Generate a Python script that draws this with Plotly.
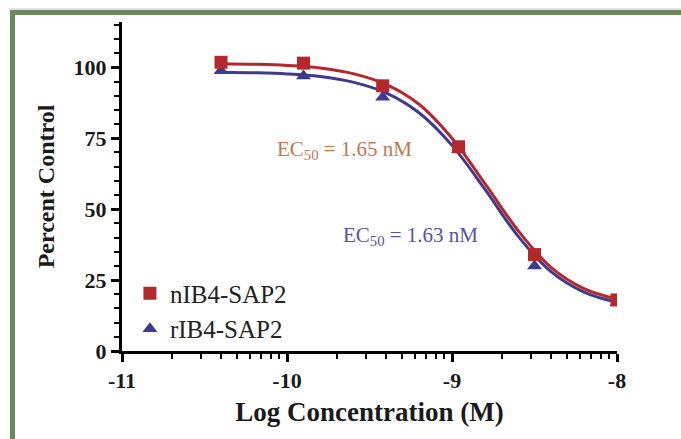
import math
import plotly.graph_objects as go

# ---- data ----
log_conc = [-10.4, -9.9, -9.42, -8.96, -8.5, -8.0]
n_vals = [101.8, 101.5, 93.5, 72.0, 34.0, 18.0]      # nIB4-SAP2 (red squares)
r_vals = [98.8, 97.0, 89.5, 71.0, 30.0, 17.0]        # rIB4-SAP2 (blue triangles)

fit_x = [-10.4, -10.2, -10.0, -9.8, -9.6, -9.4, -9.2, -9.0, -8.8, -8.6, -8.4, -8.2, -8.0]
fit_n = [101.3, 101.1, 100.7, 99.8, 97.8, 94.0, 87.0, 75.0, 59.0, 42.5, 29.5, 22.0, 18.3]
fit_r = [98.3, 98.1, 97.7, 96.8, 94.8, 91.0, 84.0, 72.5, 57.0, 40.5, 28.0, 20.8, 17.2]

names = ["nIB4-SAP2", "rIB4-SAP2"]
ec50_labels = ["EC<sub>50</sub> = 1.65 nM", "EC<sub>50</sub> = 1.63 nM"]
x_ticks = [-11, -10, -9, -8]
y_ticks = [0, 25, 50, 75, 100]

RED = "#b3282d"
BLUE = "#3f3a8f"
W, H = 681, 439
ML, MR, MT, MB = 122, 64, 22, 88
SERIF = "Liberation Serif, Times New Roman, serif"

fig = go.Figure()
fig.add_trace(go.Scatter(x=fit_x, y=fit_n, mode="lines", line=dict(color=RED, width=3, shape="spline"),
                         showlegend=False, hoverinfo="skip"))
fig.add_trace(go.Scatter(x=fit_x, y=fit_r, mode="lines", line=dict(color=BLUE, width=3, shape="spline"),
                         showlegend=False, hoverinfo="skip"))
fig.add_trace(go.Scatter(x=log_conc, y=r_vals, mode="markers", name=names[1], legendgroup="b",
                         marker=dict(symbol="triangle-up", size=13, color=BLUE), legendrank=2))
fig.add_trace(go.Scatter(x=log_conc, y=n_vals, mode="markers", name=names[0], legendgroup="a",
                         marker=dict(symbol="square", size=13, color=RED), legendrank=1))

# log-spaced minor ticks on the x axis
minor_x = [d + math.log10(k) for d in x_ticks[:-1] for k in range(2, 10)]

fig.update_layout(
    width=W, height=H,
    margin=dict(l=ML, r=MR, t=MT, b=MB),
    paper_bgcolor="white", plot_bgcolor="white",
    font=dict(family=SERIF, color="#1a1a1a"),
    xaxis=dict(range=[-11, -8], tickmode="array", tickvals=x_ticks,
               ticktext=[str(v) for v in x_ticks], automargin=False,
               showline=True, linecolor="black", linewidth=3, ticks="outside", ticklen=8,
               tickwidth=3, tickcolor="black", showgrid=False, zeroline=False,
               tickfont=dict(size=22, family=SERIF, weight="bold"),
               minor=dict(tickmode="array", tickvals=minor_x, ticks="outside", ticklen=5,
                          tickwidth=2, tickcolor="black", showgrid=False),
               title=dict(text="Log Concentration (M)", font=dict(size=27, family=SERIF, weight="bold"),
                          standoff=10)),
    yaxis=dict(range=[0, 116], tickmode="linear", tick0=0, dtick=25, automargin=False,
               showline=True, linecolor="black", linewidth=3,
               ticks="outside", ticklen=8, tickwidth=3, tickcolor="black", showgrid=False,
               zeroline=False, tickfont=dict(size=22, family=SERIF, weight="bold"),
               minor=dict(dtick=5, tick0=0, ticks="outside", ticklen=5, tickwidth=2,
                          tickcolor="black", showgrid=False),
               title=dict(text="Percent Control", font=dict(size=24, family=SERIF, weight="bold"),
                          standoff=13)),
    legend=dict(x=0.016, y=0.245, xanchor="left", yanchor="top", bgcolor="rgba(0,0,0,0)",
                font=dict(size=25, family=SERIF, color="#222"), tracegroupgap=0, itemwidth=30),
)

fig.add_annotation(x=-9.65, y=71, text=ec50_labels[0], showarrow=False,
                   font=dict(size=21, family=SERIF, color="#c47650"))
fig.add_annotation(x=-9.25, y=40.5, text=ec50_labels[1], showarrow=False,
                   font=dict(size=21, family=SERIF, color="#5654a0"))

# green frame (top and left), placed in pixel terms
pw, ph = W - ML - MR, H - MT - MB
px = lambda p: (p - ML) / pw
py = lambda p: (H - MB - p) / ph
GREEN = "#6b8a5b"
fig.add_shape(type="rect", xref="paper", yref="paper", x0=px(10), x1=px(W + 5), y0=py(15), y1=py(10),
              fillcolor=GREEN, line=dict(width=0), layer="above")
fig.add_shape(type="rect", xref="paper", yref="paper", x0=px(10), x1=px(15), y0=py(H + 5), y1=py(10),
              fillcolor=GREEN, line=dict(width=0), layer="above")
fig.add_shape(type="line", xref="paper", yref="paper", x0=px(10), x1=px(W + 5), y0=py(9), y1=py(9),
              line=dict(color="#c8c8c8", width=1))

fig.write_html("out.html", config={"displayModeBar": False},
               post_script="document.body.style.margin='0';document.body.style.overflow='hidden';")
